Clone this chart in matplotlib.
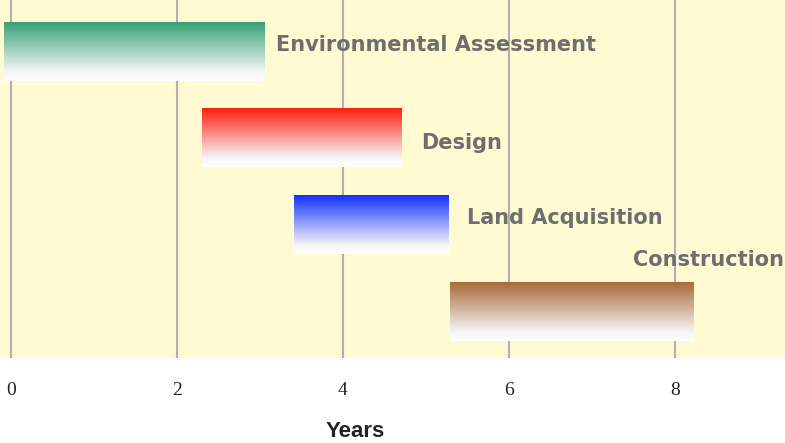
import numpy as np
import matplotlib.pyplot as plt
from matplotlib.colors import LinearSegmentedColormap

tasks = ["Environmental Assessment", "Design", "Land Acquisition", "Construction"]
starts = [-0.08, 2.31, 3.41, 5.29]
ends = [3.06, 4.72, 5.27, 8.22]
colors = ["#36a274", "#ff1e10", "#1030ff", "#a86a36"]
label_x = [3.2, 4.94, 5.5, 7.5]
label_y = [-0.07, 1.06, 1.92, 2.41]
ticks = [0, 2, 4, 6, 8]

fig = plt.figure(figsize=(7.85, 4.43), dpi=100)
fig.patch.set_facecolor("white")
ax = fig.add_axes([0, 0.192, 1, 0.808])
ax.set_facecolor("#fffad2")

for t in ticks:
    ax.axvline(t, color="#b0b0b0", lw=1.5, zorder=1)

# vertical gradient: colour on top fading to white
grad = np.linspace(0, 1, 256).reshape(-1, 1)
h = 0.68
for i, (s, e, c) in enumerate(zip(starts, ends, colors)):
    cmap = LinearSegmentedColormap.from_list("g", [(0, c), (0.85, "#f6f6f8"), (1, "white")])
    ax.imshow(grad, cmap=cmap, aspect="auto", extent=(s, e, i + h / 2, i - h / 2),
              zorder=2, interpolation="bilinear")
    ax.text(label_x[i], label_y[i], tasks[i], color="#6e6e6e", fontsize=15,
            fontweight="bold", family="DejaVu Sans", va="center", ha="left", zorder=3)

ax.set_xlim(-0.13, 9.33)
ax.set_ylim(3.54, -0.59)

ax.set_xticks(ticks)
ax.set_xticklabels([str(t) for t in ticks], family="Liberation Serif", fontsize=14, color="#222222")
ax.tick_params(axis="x", length=0, pad=17)
ax.set_yticks([])
for sp in ax.spines.values():
    sp.set_visible(False)

ax.set_xlabel("Years", family="Liberation Sans", fontweight="bold", fontsize=16,
              color="#222222", va="center")
ax.xaxis.set_label_coords(0.453, -0.205)

fig.savefig("out.png", dpi=100)
